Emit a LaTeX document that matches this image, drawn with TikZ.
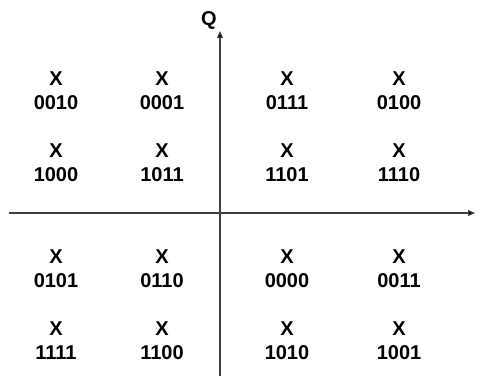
\documentclass[tikz,border=0pt]{standalone}
\usepackage{fontspec}
\setmainfont{Liberation Sans}
\usetikzlibrary{arrows.meta}
\begin{document}
\begin{tikzpicture}[x=1pt,y=-1pt,
  pt/.style={font=\bfseries\fontsize{20}{24}\selectfont, align=center, inner sep=0pt},
  axis/.style={draw=black!75, line width=1.1pt, -{Triangle[length=7pt,width=6pt,fill=black]}},
  lbl/.style={font=\bfseries\fontsize{20}{20}\selectfont, inner sep=0pt}]
\useasboundingbox (0,0) rectangle (486,376);
\coordinate (xs) at (9,213);
\coordinate (xe) at (475,213);
\coordinate (ys) at (220,376);
\coordinate (ye) at (220,31);
\draw[axis] (xs) -- (xe);
\draw[axis] (ys) -- (ye);
\node[lbl] (Q) at (209,20) {Q};
\node[lbl, anchor=west] (I) at (485,213) {I};
\foreach \lab [count=\i from 0] in {0010,0001,0111,0100,1000,1011,1101,1110,0101,0110,0000,0011,1111,1100,1010,1001}{
  \pgfmathtruncatemacro{\c}{mod(\i,4)}
  \pgfmathtruncatemacro{\r}{div(\i,4)}
  \pgfmathsetmacro{\px}{{56,162,287,399}[\c]}
  \pgfmathsetmacro{\py}{{91,163,269,341}[\r]}
  \node[pt] (p\i) at (\px,\py) {X\\\lab};
}
\end{tikzpicture}
\end{document}
